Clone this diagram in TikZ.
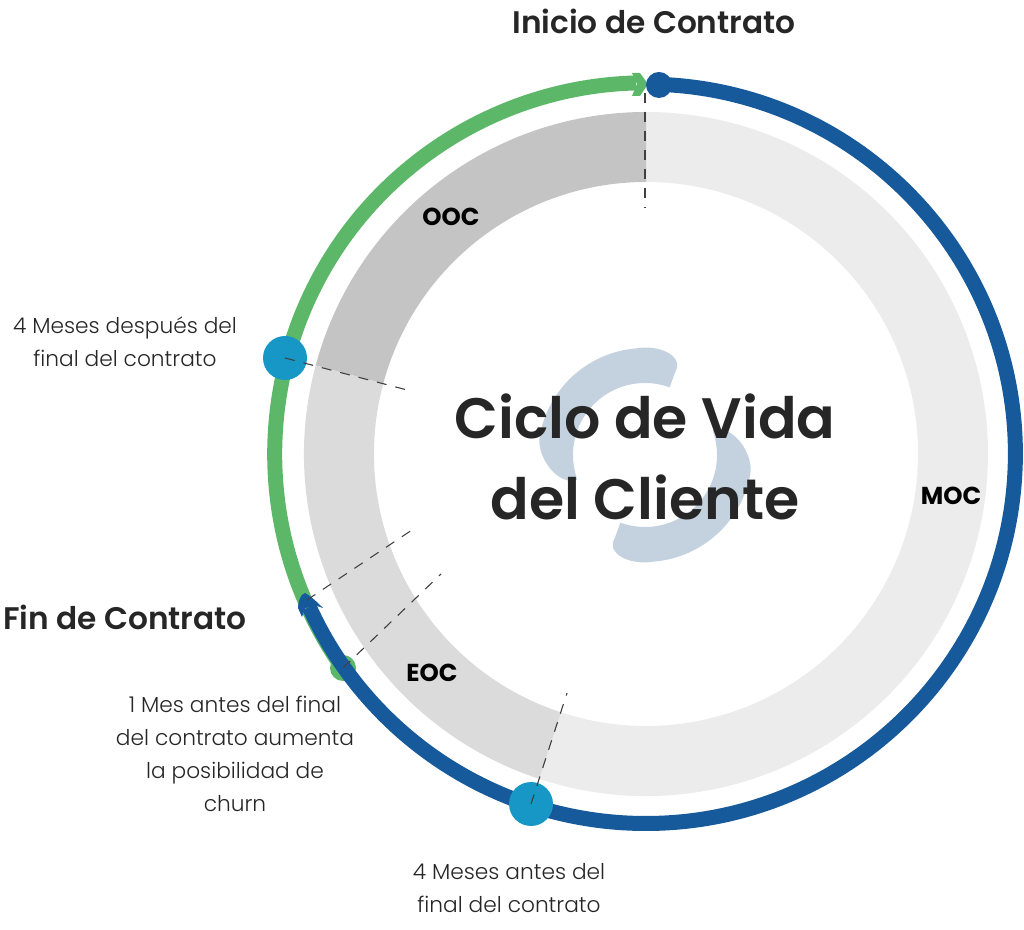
\documentclass[tikz,border=0pt]{standalone}
\usepackage{fontspec}
\setmainfont{Poppins}
\newfontfamily\lightf{Poppins Light}
\newfontfamily\medf{Poppins Medium}
\newfontfamily\semif{Poppins SemiBold}
\newfontfamily\boldf{Poppins Bold}
\definecolor{ringblue}{HTML}{175A9C}
\definecolor{ringgreen}{HTML}{5CB868}
\definecolor{dotteal}{HTML}{1797C6}
\definecolor{moccol}{HTML}{ECECEC}
\definecolor{ooccol}{HTML}{C4C4C4}
\definecolor{eoccol}{HTML}{DBDBDB}
\definecolor{swirl}{HTML}{C3D2DE}
\definecolor{inktext}{HTML}{262626}
\tikzset{
  x=1pt,y=1pt,
  dotnode/.style={circle,inner sep=0pt,minimum size=#1},
  dashline/.style={draw=black!75,line width=1.1pt,dash pattern=on 10pt off 9pt},
  arcline/.style={line width=15pt,line cap=butt},
  seglabel/.style={font=\boldf\fontsize{24.5}{24.5}\selectfont,text=black,inner sep=0pt},
  smalllabel/.style={font=\lightf\fontsize{21.7}{33}\selectfont,text=inktext,align=center,inner sep=0pt},
  headlabel/.style={font=\semif\fontsize{31.2}{31.2}\selectfont,text=inktext,inner sep=0pt},
  biglabel/.style={font=\semif\fontsize{57}{81}\selectfont,text=inktext,align=center,inner sep=0pt}
}
\newcommand{\sector}[3]{\fill[#1] (646,475)+(#2:342) arc[start angle=#2,end angle=#3,radius=342] -- ($(646,475)+(#3:272)$) arc[start angle=#3,end angle=#2,radius=272] -- cycle;}
\usetikzlibrary{calc}
\begin{document}
\begin{tikzpicture}
\useasboundingbox (0,0) rectangle (1024,929);
% gray sectors
\sector{moccol}{-108.2}{90}
\sector{ooccol}{90}{165}
\sector{eoccol}{165}{251.8}
% swirl
\foreach \r in {0,180}{
\begin{scope}[shift={(645,474)},rotate=\r]
\fill[swirl] (70:72) arc[start angle=70,end angle=200,radius=72]
  -- (199:79) .. controls (195:95) and (180:108) .. (170:107)
  arc[start angle=170,end angle=95,radius=107]
  .. controls (82:112) and (68:106) .. (70:88) -- cycle;
\end{scope}}
% outer arcs
\draw[ringgreen,arcline] (645.7,475.2)+(215.5:371) arc[start angle=215.5,end angle=91.5,radius=371];
\fill[ringgreen] (648,845) -- (640,856) -- (632,856) -- (637,845) -- (632,833) -- (640,833) -- cycle;
\node[dotnode=26pt,fill=ringgreen] (greendot) at (343,261) {};
\draw[ringblue,arcline] (645.7,475.2)+(87.8:369.7) arc[start angle=87.8,end angle=-155.5,radius=369.7];
\fill[ringblue] (305,336) .. controls (300,335) and (298,326) .. (298,321) -- (302,312) -- (305,321) -- (317,323) -- (323,321) .. controls (318,326) and (312,332) .. (305,336) -- cycle;
\node[dotnode=26pt,fill=ringblue] (startdot) at (659,844) {};
\node[dotnode=44pt,fill=dotteal] (afterdot) at (285,571) {};
\node[dotnode=44pt,fill=dotteal] (beforedot) at (531,125) {};
% dashed connectors
\coordinate (topa) at (645,836);
\coordinate (topb) at (645,721);
\coordinate (afterend) at (411,538);
\coordinate (fina) at (307,329);
\coordinate (finb) at (412,399);
\coordinate (monthend) at (441,355);
\coordinate (beforeend) at (567,236);
\draw[dashline] (topa) -- (topb);
\draw[dashline] (afterdot.center) -- (afterend);
\draw[dashline] (fina) -- (finb);
\draw[dashline] (greendot.center) -- (monthend);
\draw[dashline] (beforedot.center) -- (beforeend);
% labels
\node[seglabel] (ooc) at (451,712) {OOC};
\node[seglabel] (moc) at (951,433) {MOC};
\node[seglabel] (eoc) at (432,256) {EOC};
\node[biglabel] (title) at (645,472) {Ciclo de Vida\\del Cliente};
\node[headlabel] (inicio) at (654,908) {Inicio de Contrato};
\node[headlabel] (fin) at (125,312) {Fin de Contrato};
\node[smalllabel] (after) at (125,587) {4 Meses después del\\final del contrato};
\node[smalllabel] (month) at (235,175) {1 Mes antes del final\\del contrato aumenta\\la posibilidad de\\churn};
\node[smalllabel] (before) at (509,41) {4 Meses antes del\\final del contrato};
\end{tikzpicture}
\end{document}
